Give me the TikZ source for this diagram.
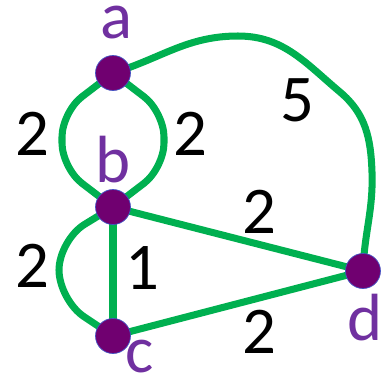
\documentclass[tikz,border=0pt]{standalone}
\usepackage{fontspec}
\setmainfont{Carlito}
\usetikzlibrary{backgrounds}
\definecolor{vtxPurple}{RGB}{112,0,112}
\definecolor{vtxRim}{RGB}{68,84,196}
\definecolor{lblPurple}{RGB}{112,48,160}
\definecolor{edgeGreen}{RGB}{0,176,80}

\begin{document}
\begin{tikzpicture}[x=0.02cm,y=-0.02cm,
  vtx/.style={circle,fill=vtxPurple,draw=vtxRim,line width=0.4pt,inner sep=0pt,minimum size=0.7cm},
  vlbl/.style={text=lblPurple,font=\fontsize{38}{38}\selectfont,inner sep=0pt},
  short/.style={text height=17.7pt,text depth=0pt},
  wt/.style={text=black,font=\fontsize{38}{38}\selectfont,inner sep=0pt},
  link/.style={draw=edgeGreen,line width=4pt,line join=round}
]
  \useasboundingbox (0,0) rectangle (390,380);
  % vertices
  \node[vtx] (a) at (113,73) {};
  \node[vtx] (b) at (113,207) {};
  \node[vtx] (c) at (113,336) {};
  \node[vtx] (d) at (363,271) {};
  \node[vlbl,short] (la) at (116,23) {a};
  \node[vlbl] (lb) at (113,160) {b};
  \node[vlbl,short] (lc) at (140,357) {c};
  \node[vlbl] (ld) at (365,318) {d};
  % weights
  \node[wt] (wab1) at (32,134) {2};
  \node[wt] (wab2) at (190,134) {2};
  \node[wt] (wad) at (297,100) {5};
  \node[wt] (wbd) at (259,212) {2};
  \node[wt] (wbc1) at (142,268) {1};
  \node[wt] (wbc2) at (32,266) {2};
  \node[wt] (wcd) at (259,332) {2};
  \begin{pgfonlayer}{background}
    \draw[link,rounded corners=0.5cm] (a.center) -- (62,112) -- (62,168) -- (b.center);
    \draw[link,rounded corners=0.5cm] (a.center) -- (164,112) -- (164,168) -- (b.center);
    \draw[link,rounded corners=0.6cm] (b.center) -- (59,240) -- (59,300) -- (c.center);
    \draw[link] (b.center) -- (c.center);
    \draw[link] (b.center) -- (d.center);
    \draw[link] (c.center) -- (d.center);
    \draw[link] (a.center) to[out=17,in=180] (238,36)
      to[out=0,in=140] (340,92) to[out=-40,in=92] (372,172) to[out=-88,in=88] (d.center);
  \end{pgfonlayer}
\end{tikzpicture}
\end{document}
